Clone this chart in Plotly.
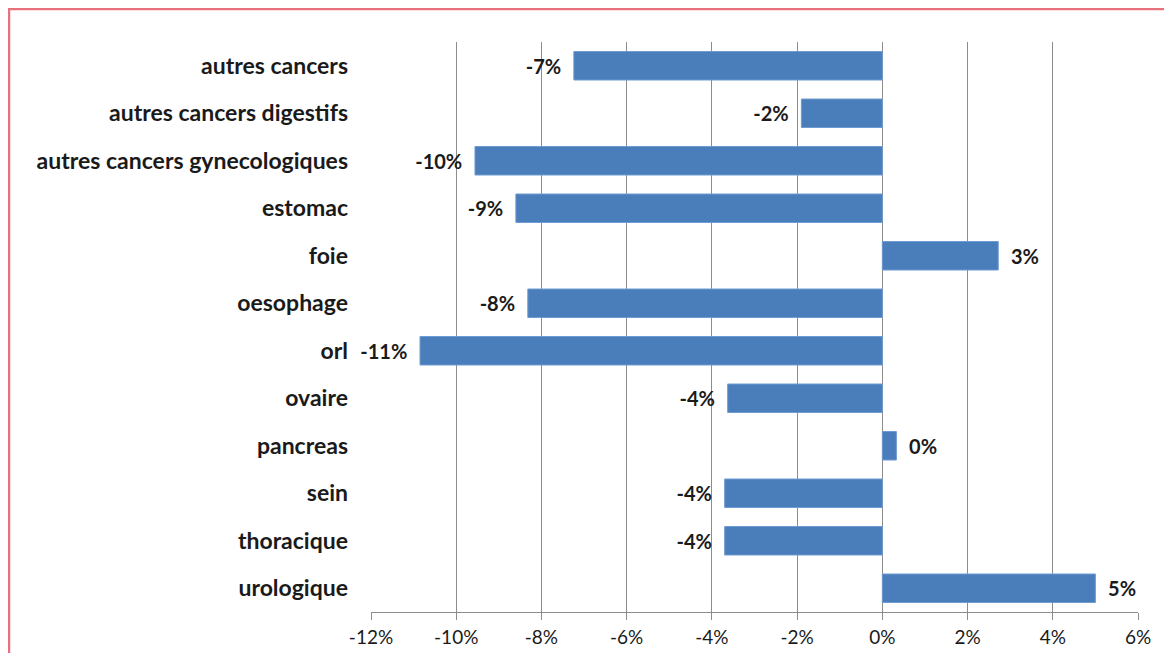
import plotly.graph_objects as go

categories = [
    "autres cancers",
    "autres cancers digestifs",
    "autres cancers gynecologiques",
    "estomac",
    "foie",
    "oesophage",
    "orl",
    "ovaire",
    "pancreas",
    "sein",
    "thoracique",
    "urologique",
]
values = [-7.24, -1.9, -9.56, -8.6, 2.72, -8.32, -10.85, -3.63, 0.33, -3.7, -3.7, 5.0]
value_labels = ["-7%", "-2%", "-10%", "-9%", "3%", "-8%", "-11%", "-4%", "0%", "-4%", "-4%", "5%"]
tick_values = [-12, -10, -8, -6, -4, -2, 0, 2, 4, 6]
tick_labels = ["-12%", "-10%", "-8%", "-6%", "-4%", "-2%", "0%", "2%", "4%", "6%"]

# small gap between bar end and label, like the original
padded = [t + "  " if v < 0 else "  " + t for t, v in zip(value_labels, values)]

fig = go.Figure()
fig.add_trace(go.Bar(
    y=categories,
    x=values,
    orientation="h",
    text=padded,
    textposition="outside",
    cliponaxis=False,
    textfont=dict(family="Lato", size=20, color="#1a1a1a", weight="bold"),
    marker=dict(color="#4a7ebb", line=dict(color="#6f9bd3", width=1)),
))

# page body adds an 8px offset, so margins are trimmed by that much
fig.update_layout(
    width=1164,
    height=645,
    plot_bgcolor="white",
    paper_bgcolor="white",
    showlegend=False,
    bargap=0.4,
    margin=dict(l=363, r=34, t=34, b=41),
    font=dict(family="Lato", color="#1a1a1a"),
    xaxis=dict(
        range=[-12, 6],
        tickvals=tick_values,
        ticktext=tick_labels,
        automargin=False,
        showgrid=True,
        gridcolor="#8c8c8c",
        gridwidth=1.3,
        zeroline=False,
        showline=True,
        linecolor="#8c8c8c",
        linewidth=1.3,
        ticks="outside",
        ticklen=7,
        tickcolor="#8c8c8c",
        ticklabelstandoff=1,
        tickfont=dict(size=19, color="#1a1a1a"),
    ),
    yaxis=dict(
        autorange="reversed",
        showgrid=False,
        zeroline=False,
        showline=False,
        ticks="",
        ticklabelstandoff=22,
        tickfont=dict(size=23, color="#1a1a1a", weight="bold"),
    ),
    shapes=[dict(
        type="rect", xref="paper", yref="paper",
        x0=-0.472, x1=1.06, y0=-0.1, y1=1.058,
        line=dict(color="#e8717d", width=2.5),
        fillcolor="rgba(0,0,0,0)",
        layer="above",
    )],
)

fig.write_html("out.html")
